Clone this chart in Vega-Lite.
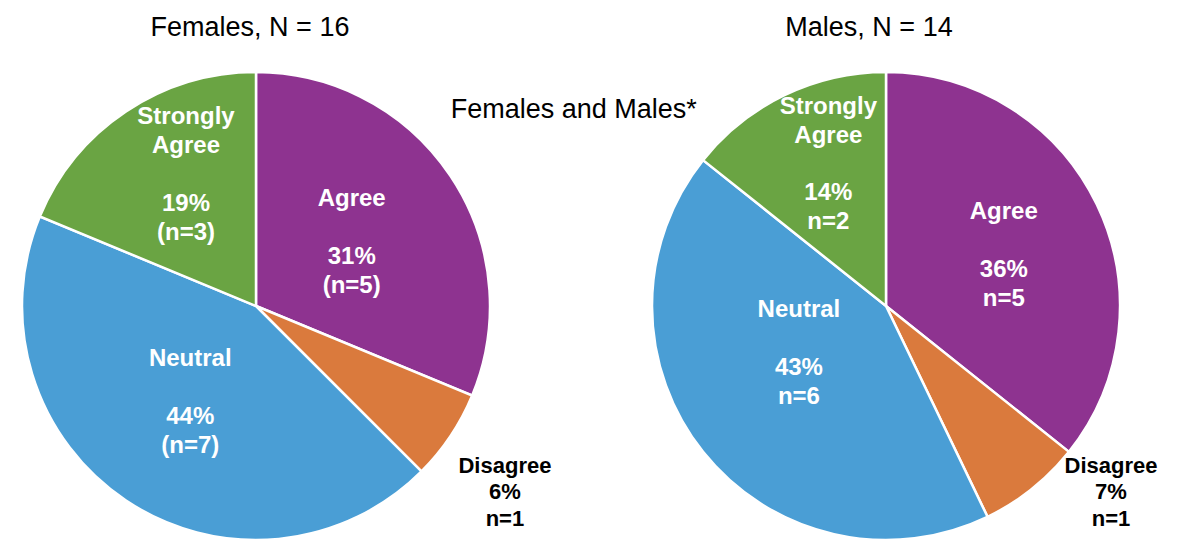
{
  "$schema": "https://vega.github.io/schema/vega-lite/v6.json",
  "padding": {"left": 0, "top": 14, "right": 0, "bottom": 0},
  "background": "white",
  "title": {"text": "Females and Males*", "fontSize": 27, "font": "Liberation Sans", "fontWeight": "normal", "color": "#000000", "anchor": "middle", "dy": 114, "dx": -5},
  "datasets": {
    "survey": [
      {"gender": "Female", "response": "Agree", "ord": 1, "n": 5, "name": "Agree", "stat": "31%\n(n=5)"},
      {"gender": "Female", "response": "Disagree", "ord": 2, "n": 1, "name": "Disagree", "stat": "6%\nn=1"},
      {"gender": "Female", "response": "Neutral", "ord": 3, "n": 7, "name": "Neutral", "stat": "44%\n(n=7)"},
      {"gender": "Female", "response": "Strongly Agree", "ord": 4, "n": 3, "name": "Strongly\nAgree", "stat": "19%\n(n=3)"},
      {"gender": "Male", "response": "Agree", "ord": 1, "n": 5, "name": "Agree", "stat": "36%\nn=5"},
      {"gender": "Male", "response": "Disagree", "ord": 2, "n": 1, "name": "Disagree", "stat": "7%\nn=1"},
      {"gender": "Male", "response": "Neutral", "ord": 3, "n": 6, "name": "Neutral", "stat": "43%\nn=6"},
      {"gender": "Male", "response": "Strongly Agree", "ord": 4, "n": 2, "name": "Strongly\nAgree", "stat": "14%\nn=2"}
    ]
  },
  "spacing": 78,
  "hconcat": [
    {
      "width": 512, "height": 468,
      "title": {"text": "Females, N = 16", "offset": 25, "dx": -6},
      "data": {"name": "survey"},
      "transform": [
        {"filter": "datum.gender === 'Female'"},
        {"stack": "n", "groupby": [], "sort": [{"field": "ord", "order": "ascending"}], "as": ["t0", "t1"]}
      ],
      "encoding": {
        "theta": {"field": "t0", "type": "quantitative", "scale": {"domain": [0, 16]}}
      },
      "layer": [
        {"mark": {"type": "arc", "outerRadius": 234, "stroke": "white", "strokeWidth": 2.5},
         "encoding": {
           "theta2": {"field": "t1"},
           "color": {"field": "response", "type": "nominal", "legend": null,
           "scale": {"domain": ["Agree", "Disagree", "Neutral", "Strongly Agree"], "range": ["#8E3390", "#DA7A3D", "#4A9ED5", "#6AA443"]}}}},
        {"transform": [{"filter": "datum.response === 'Strongly Agree'"}],
         "mark": {"type": "text", "radius": 149, "thetaOffset": 0.689, "dy": -57},
         "encoding": {"text": {"field": "name"}}},
        {"transform": [{"filter": "datum.response === 'Strongly Agree'"}],
         "mark": {"type": "text", "radius": 149, "thetaOffset": 0.689, "dy": 30},
         "encoding": {"text": {"field": "stat"}}},
        {"transform": [{"filter": "datum.response === 'Agree'"}],
         "mark": {"type": "text", "radius": 115, "thetaOffset": 0.983, "dy": -43.5},
         "encoding": {"text": {"field": "name"}}},
        {"transform": [{"filter": "datum.response === 'Agree'"}],
         "mark": {"type": "text", "radius": 115, "thetaOffset": 0.983, "dy": 14.5},
         "encoding": {"text": {"field": "stat"}}},
        {"transform": [{"filter": "datum.response === 'Neutral'"}],
         "mark": {"type": "text", "radius": 117, "thetaOffset": 1.382, "dy": -43.5},
         "encoding": {"text": {"field": "name"}}},
        {"transform": [{"filter": "datum.response === 'Neutral'"}],
         "mark": {"type": "text", "radius": 117, "thetaOffset": 1.382, "dy": 14.5},
         "encoding": {"text": {"field": "stat"}}},
        {"transform": [{"filter": "datum.response === 'Disagree'"}],
         "mark": {"type": "text", "radius": 311, "thetaOffset": 0.25, "dy": -26.5, "fill": "black", "fontSize": 22, "lineHeight": 26.5},
         "encoding": {"text": {"field": "name"}}},
        {"transform": [{"filter": "datum.response === 'Disagree'"}],
         "mark": {"type": "text", "radius": 311, "thetaOffset": 0.25, "dy": 0, "fill": "black", "fontSize": 22, "lineHeight": 26.5},
         "encoding": {"text": {"field": "stat"}}}
      ]
    },
    {
      "width": 512, "height": 468,
      "title": {"text": "Males, N = 14", "offset": 25, "dx": -17},
      "data": {"name": "survey"},
      "transform": [
        {"filter": "datum.gender === 'Male'"},
        {"stack": "n", "groupby": [], "sort": [{"field": "ord", "order": "ascending"}], "as": ["t0", "t1"]}
      ],
      "encoding": {
        "theta": {"field": "t0", "type": "quantitative", "scale": {"domain": [0, 14]}}
      },
      "layer": [
        {"mark": {"type": "arc", "outerRadius": 234, "stroke": "white", "strokeWidth": 2.5},
         "encoding": {
           "theta2": {"field": "t1"},
           "color": {"field": "response", "type": "nominal", "legend": null,
           "scale": {"domain": ["Agree", "Disagree", "Neutral", "Strongly Agree"], "range": ["#8E3390", "#DA7A3D", "#4A9ED5", "#6AA443"]}}}},
        {"transform": [{"filter": "datum.response === 'Strongly Agree'"}],
         "mark": {"type": "text", "radius": 154, "thetaOffset": 0.514, "dy": -56},
         "encoding": {"text": {"field": "name"}}},
        {"transform": [{"filter": "datum.response === 'Strongly Agree'"}],
         "mark": {"type": "text", "radius": 154, "thetaOffset": 0.514, "dy": 30},
         "encoding": {"text": {"field": "stat"}}},
        {"transform": [{"filter": "datum.response === 'Agree'"}],
         "mark": {"type": "text", "radius": 128, "thetaOffset": 1.169, "dy": -43.5},
         "encoding": {"text": {"field": "name"}}},
        {"transform": [{"filter": "datum.response === 'Agree'"}],
         "mark": {"type": "text", "radius": 128, "thetaOffset": 1.169, "dy": 14.5},
         "encoding": {"text": {"field": "stat"}}},
        {"transform": [{"filter": "datum.response === 'Neutral'"}],
         "mark": {"type": "text", "radius": 99, "thetaOffset": 1.524, "dy": -43.5},
         "encoding": {"text": {"field": "name"}}},
        {"transform": [{"filter": "datum.response === 'Neutral'"}],
         "mark": {"type": "text", "radius": 99, "thetaOffset": 1.524, "dy": 14.5},
         "encoding": {"text": {"field": "stat"}}},
        {"transform": [{"filter": "datum.response === 'Disagree'"}],
         "mark": {"type": "text", "radius": 292, "thetaOffset": 0.018, "dy": -26.5, "fill": "black", "fontSize": 22, "lineHeight": 26.5},
         "encoding": {"text": {"field": "name"}}},
        {"transform": [{"filter": "datum.response === 'Disagree'"}],
         "mark": {"type": "text", "radius": 292, "thetaOffset": 0.018, "dy": 0, "fill": "black", "fontSize": 22, "lineHeight": 26.5},
         "encoding": {"text": {"field": "stat"}}}
      ]
    }
  ],
  "config": {
    "view": {"stroke": null},
    "font": "Liberation Sans",
    "title": {"fontSize": 27, "font": "Liberation Sans", "fontWeight": "normal", "color": "#000000", "anchor": "middle"},
    "text": {"font": "Liberation Sans", "fontWeight": "bold", "fontSize": 24, "lineHeight": 29, "lineBreak": "\n", "fill": "white", "baseline": "middle", "align": "center"}
  }
}
